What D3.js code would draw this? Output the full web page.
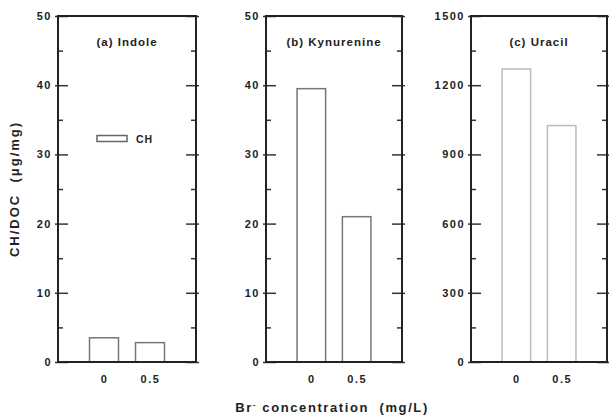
<!DOCTYPE html>
<html>
<head>
<meta charset="utf-8">
<script src="https://cdn.jsdelivr.net/npm/d3@7"></script>
<style>
  body { margin: 0; background: #fff; }
  text { font-family: "Liberation Sans", Arial, sans-serif; font-weight: bold; fill: #222; white-space: pre; }
  .frame { fill: none; stroke: #222; stroke-width: 2; }
  .tick line { stroke: #333; stroke-width: 1.5; }
  .tick text { font-size: 11px; letter-spacing: 1.5px; }
  .domain { display: none; }
</style>
</head>
<body>
<div id="chart"></div>
<script>
// data
var concentrations = ["0", "0.5"];
var indole = [3.5, 2.8];
var kynurenine = [39.5, 21.0];
var uracil = [1270, 1025];
var panelTitles = ["(a) Indole", "(b) Kynurenine", "(c) Uracil"];
var yMaxes = [50, 50, 1500];
var yMajor = [[0, 10, 20, 30, 40, 50], [0, 10, 20, 30, 40, 50], [0, 300, 600, 900, 1200, 1500]];
var yMinor = [[5, 15, 25, 35, 45], [5, 15, 25, 35, 45], [150, 450, 750, 1050, 1350]];
var legendLabel = "CH";

var series = [indole, kynurenine, uracil];

var width = 609, height = 420;
var plotTop = 16, plotBottom = 362;
var plotH = plotBottom - plotTop;
var panels = [
  {left: 58, right: 196, barColor: "#777"},
  {left: 266, right: 402, barColor: "#777"},
  {left: 471, right: 607, barColor: "#bbb"}
];

var svg = d3.select("#chart")
  .append("svg")
    .attr("width", width)
    .attr("height", height);

panels.forEach(function(p, i) {
  var w = p.right - p.left;
  var g = svg.append("g")
    .attr("transform", "translate(" + p.left + "," + plotTop + ")");

  var x = d3.scalePoint()
    .domain(concentrations)
    .range([0, w])
    .padding(1);

  var y = d3.scaleLinear()
    .domain([0, yMaxes[i]])
    .range([plotH, 0]);

  var data = concentrations.map(function(c, j) { return {c: c, v: series[i][j]}; });
  var bw = w * 0.21;

  // bars
  g.selectAll("rect.bar")
    .data(data)
    .enter()
    .append("rect")
      .attr("class", "bar")
      .attr("x", function(d) { return x(d.c) - bw / 2; })
      .attr("y", function(d) { return y(d.v); })
      .attr("width", bw)
      .attr("height", function(d) { return y(0) - y(d.v); })
      .attr("fill", "none")
      .attr("stroke", p.barColor)
      .attr("stroke-width", 1.5);

  // left axis: labels + short outside part of ticks
  g.append("g")
    .call(d3.axisLeft(y).tickValues(yMajor[i]).tickSize(3).tickPadding(3).tickFormat(d3.format("d")));
  // inward major ticks
  g.append("g")
    .call(d3.axisLeft(y).tickValues(yMajor[i]).tickSize(-10).tickFormat(""));
  g.append("g")
    .call(d3.axisLeft(y).tickValues(yMinor[i]).tickSize(-5).tickFormat(""));

  // right axis mirrored
  g.append("g")
    .attr("transform", "translate(" + w + ",0)")
    .call(d3.axisRight(y).tickValues(yMajor[i]).tickSize(3).tickFormat(""));
  g.append("g")
    .attr("transform", "translate(" + w + ",0)")
    .call(d3.axisRight(y).tickValues(yMajor[i]).tickSize(-10).tickFormat(""));
  g.append("g")
    .attr("transform", "translate(" + w + ",0)")
    .call(d3.axisRight(y).tickValues(yMinor[i]).tickSize(-5).tickFormat(""));

  // x axis labels (no ticks)
  g.append("g")
    .attr("transform", "translate(0," + plotH + ")")
    .call(d3.axisBottom(x).tickSize(0).tickPadding(13));

  // frame
  g.append("rect")
    .attr("class", "frame")
    .attr("width", w)
    .attr("height", plotH);

  // panel title
  g.append("text")
    .attr("x", w / 2)
    .attr("y", 30)
    .attr("text-anchor", "middle")
    .style("font-size", "11.5px")
    .style("letter-spacing", "1px")
    .text(panelTitles[i]);

  // legend in first panel
  if (i === 0) {
    g.append("rect")
      .attr("x", 39)
      .attr("y", 119.5)
      .attr("width", 30)
      .attr("height", 6)
      .attr("fill", "none")
      .attr("stroke", "#666")
      .attr("stroke-width", 1.5);
    g.append("text")
      .attr("x", 78)
      .attr("y", 127)
      .style("font-size", "10.5px")
      .style("letter-spacing", "1px")
      .text(legendLabel);
  }
});

// y axis title
svg.append("text")
  .attr("transform", "translate(19," + ((plotTop + plotBottom) / 2) + ") rotate(-90)")
  .attr("text-anchor", "middle")
  .style("font-size", "13px")
  .style("letter-spacing", "2px")
  .text("CH/DOC  (\u03bcg/mg)");

// x axis title
var xt = svg.append("text")
  .attr("x", 332)
  .attr("y", 412)
  .attr("text-anchor", "middle")
  .style("font-size", "13px")
  .style("letter-spacing", "1.6px");
xt.append("tspan").text("Br");
xt.append("tspan").attr("dy", -5).style("font-size", "8px").text("-");
xt.append("tspan").attr("dy", 5).text(" concentration  (mg/L)");
</script>
</body>
</html>
